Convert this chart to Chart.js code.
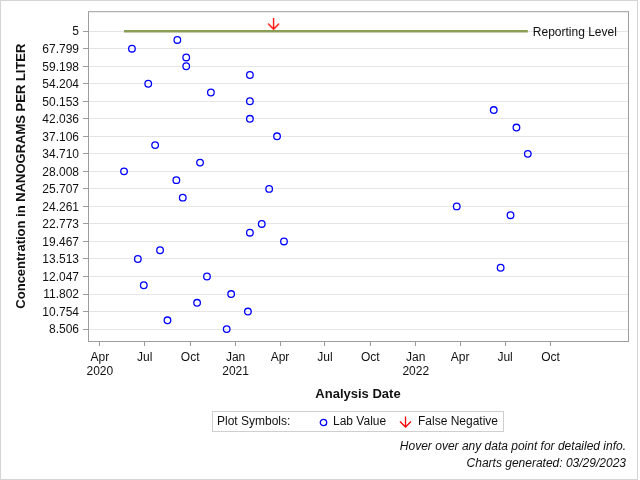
<!DOCTYPE html>
<html>
<head>
<meta charset="utf-8">
<script src="https://cdn.jsdelivr.net/npm/chart.js@4/dist/chart.umd.min.js"></script>
<style>
  body { margin: 0; background: #fff; font-family: "Liberation Sans", Arial, sans-serif; }
  #wrap { position: relative; width: 640px; height: 480px; }
  #frame { position: absolute; left: 0; top: 0; width: 636px; height: 478px; border: 1px solid #d4d4d4; }
  canvas { position: absolute; left: 0; top: 0; }
  .legend { position: absolute; left: 212px; top: 411px; width: 292px; height: 21px; box-sizing: border-box;
            border: 1px solid #cfcfcf; font-size: 12px; color: #111; }
  .legend span, .legend svg { position: absolute; }
  .note { position: absolute; right: 14px; font-size: 12px; font-style: italic; color: #111; white-space: nowrap; }
</style>
</head>
<body>
<div id="wrap">
  <div id="frame"></div>
  <canvas id="chart" width="640" height="480"></canvas>
  <div class="legend">
    <span style="left:4px;top:2px;">Plot Symbols:</span>
    <svg style="left:106px;top:6px;" width="9" height="9"><circle cx="4.5" cy="4.5" r="3.2" fill="none" stroke="#0000ff" stroke-width="1.3"/></svg>
    <span style="left:120px;top:2px;">Lab Value</span>
    <svg style="left:186px;top:4px;" width="13" height="12"><path d="M6.5 0.5 V11 M1 5.5 L6.5 11 L12 5.5" fill="none" stroke="#ff0000" stroke-width="1.3"/></svg>
    <span style="left:205px;top:2px;">False Negative</span>
  </div>
  <div class="note" style="top:439px;">Hover over any data point for detailed info.</div>
  <div class="note" style="top:456px;">Charts generated: 03/29/2023</div>
</div>
<script>
// y axis: evenly spaced value labels (index 0 = reporting level)
const yTickLabels = ['5', '67.799', '59.198', '54.204', '50.153', '42.036', '37.106', '34.710', '28.008',
  '25.707', '24.261', '22.773', '19.467', '13.513', '12.047', '11.802', '10.754', '8.506'];

// x axis quarter ticks
const xTickDates = ['2020-04-01', '2020-07-01', '2020-10-01', '2021-01-01', '2021-04-01', '2021-07-01',
  '2021-10-01', '2022-01-01', '2022-04-01', '2022-07-01', '2022-10-01'];
const xTickLabels = [['Apr', '2020'], 'Jul', 'Oct', ['Jan', '2021'], 'Apr', 'Jul', 'Oct', ['Jan', '2022'], 'Apr', 'Jul', 'Oct'];

// lab values: sample date and position on the value axis
const labDates = ['2020-09-05', '2020-06-05', '2020-09-23', '2020-09-23', '2021-01-30', '2020-07-08',
  '2020-11-12', '2021-01-30', '2022-06-08', '2021-01-30', '2022-07-24', '2021-03-26', '2020-07-22',
  '2022-08-16', '2020-10-21', '2020-05-20', '2020-09-03', '2021-03-10', '2020-09-16', '2022-03-25',
  '2022-07-12', '2021-02-23', '2021-01-30', '2021-04-09', '2020-08-01', '2020-06-17', '2022-06-22',
  '2020-11-04', '2020-06-29', '2020-12-23', '2020-10-15', '2021-01-26', '2020-08-16', '2020-12-14'];
const labRanks = [0.5, 1, 1.5, 2, 2.5, 3, 3.5, 4, 4.5, 5, 5.5, 6, 6.5, 7, 7.5, 8, 8.5, 9, 9.5, 10,
  10.5, 11, 11.5, 12, 12.5, 13, 13.5, 14, 14.5, 15, 15.5, 16, 16.5, 17];

// false negative results
const falseNegDates = ['2021-03-19'];
const falseNegRanks = [0];

const reportingLevelRank = 0;

const ms = d => Date.parse(d);
const labTimes = labDates.map(ms);
const firstTime = Math.min.apply(null, labTimes);
const lastTime = Math.max.apply(null, labTimes);

// red down arrow, tip just above the image centre
const arrow = document.createElement('canvas');
arrow.width = 13;
arrow.height = 26;
(function () {
    const c = arrow.getContext('2d');
    c.strokeStyle = '#ff0000';
    c.lineWidth = 1.3;
    c.beginPath();
    c.moveTo(6.5, 0);
    c.lineTo(6.5, 11);
    c.moveTo(1, 5.5);
    c.lineTo(6.5, 11);
    c.lineTo(12, 5.5);
    c.stroke();
})();

const frame = {
    id: 'frame',
    beforeDatasetsDraw(chart) {
        const a = chart.chartArea, ctx = chart.ctx;
        ctx.save();
        ctx.strokeStyle = '#9c9c9c';
        ctx.lineWidth = 1;
        ctx.strokeRect(a.left + 0.5, a.top + 0.5, a.right - a.left, a.bottom - a.top);
        ctx.restore();
    }
};

const refLabel = {
    id: 'refLabel',
    afterDatasetsDraw(chart) {
        const pts = chart.getDatasetMeta(2).data;
        const last = pts[pts.length - 1];
        const ctx = chart.ctx;
        ctx.save();
        ctx.font = '12px "Liberation Sans", Arial, sans-serif';
        ctx.fillStyle = '#111';
        ctx.textBaseline = 'middle';
        ctx.fillText('Reporting Level', last.x + 5, last.y + 1.5);
        ctx.restore();
    }
};

Chart.defaults.font.family = '"Liberation Sans", Arial, sans-serif';
Chart.defaults.color = '#111';

new Chart(document.getElementById('chart'), {
    type: 'scatter',
    data: {
        datasets: [
            {
                label: 'False Negative',
                data: falseNegDates.map((d, i) => ({ x: ms(d), y: falseNegRanks[i] })),
                pointStyle: arrow,
                pointRadius: 6
            },
            {
                label: 'Lab Value',
                data: labTimes.map((t, i) => ({ x: t, y: labRanks[i] })),
                pointStyle: 'circle',
                pointRadius: 3.3,
                pointHoverRadius: 3.3,
                borderWidth: 1.3,
                borderColor: '#0000ff',
                backgroundColor: 'rgba(0,0,0,0)'
            },
            {
                label: 'Reporting Level',
                data: [{ x: firstTime, y: reportingLevelRank }, { x: lastTime, y: reportingLevelRank }],
                showLine: true,
                borderColor: '#8a9e55',
                borderWidth: 2.5,
                pointRadius: 0,
                pointHoverRadius: 0
            }
        ]
    },
    options: {
        responsive: false,
        animation: false,
        events: [],
        layout: { padding: { top: 11, right: 12, left: 0, bottom: 0 } },
        plugins: { legend: { display: false }, tooltip: { enabled: false } },
        scales: {
            x: {
                type: 'linear',
                min: ms('2020-03-08'),
                max: ms('2023-03-07'),
                afterBuildTicks: function (scale) {
                    scale.ticks = xTickDates.map(d => ({ value: ms(d) }));
                },
                afterFit: function (scale) { scale.height = 139; },
                ticks: {
                    autoSkip: false,
                    maxRotation: 0,
                    padding: 4,
                    font: { size: 12, lineHeight: 1.2 },
                    callback: function (v, i) { return xTickLabels[i]; }
                },
                grid: { drawOnChartArea: false, tickLength: 5, tickColor: '#9c9c9c' },
                border: { display: false },
                title: {
                    display: true,
                    text: 'Analysis Date',
                    font: { size: 13, weight: 'bold' },
                    padding: { top: 0, bottom: 78 }
                }
            },
            y: {
                type: 'linear',
                reverse: true,
                min: -1.14,
                max: 17.68,
                afterBuildTicks: function (scale) {
                    scale.ticks = yTickLabels.map((t, i) => ({ value: i }));
                },
                afterFit: function (scale) { scale.width = 88; },
                ticks: {
                    autoSkip: false,
                    padding: 4,
                    labelOffset: 1,
                    font: { size: 12 },
                    callback: function (v) { return yTickLabels[v]; }
                },
                grid: { color: '#e6e6e6', tickLength: 5, tickColor: '#9c9c9c' },
                border: { display: false },
                title: {
                    display: true,
                    text: 'Concentration in NANOGRAMS PER LITER',
                    font: { size: 13, weight: 'bold' },
                    padding: { top: 14, bottom: 0 }
                }
            }
        }
    },
    plugins: [frame, refLabel]
});
</script>
</body>
</html>
